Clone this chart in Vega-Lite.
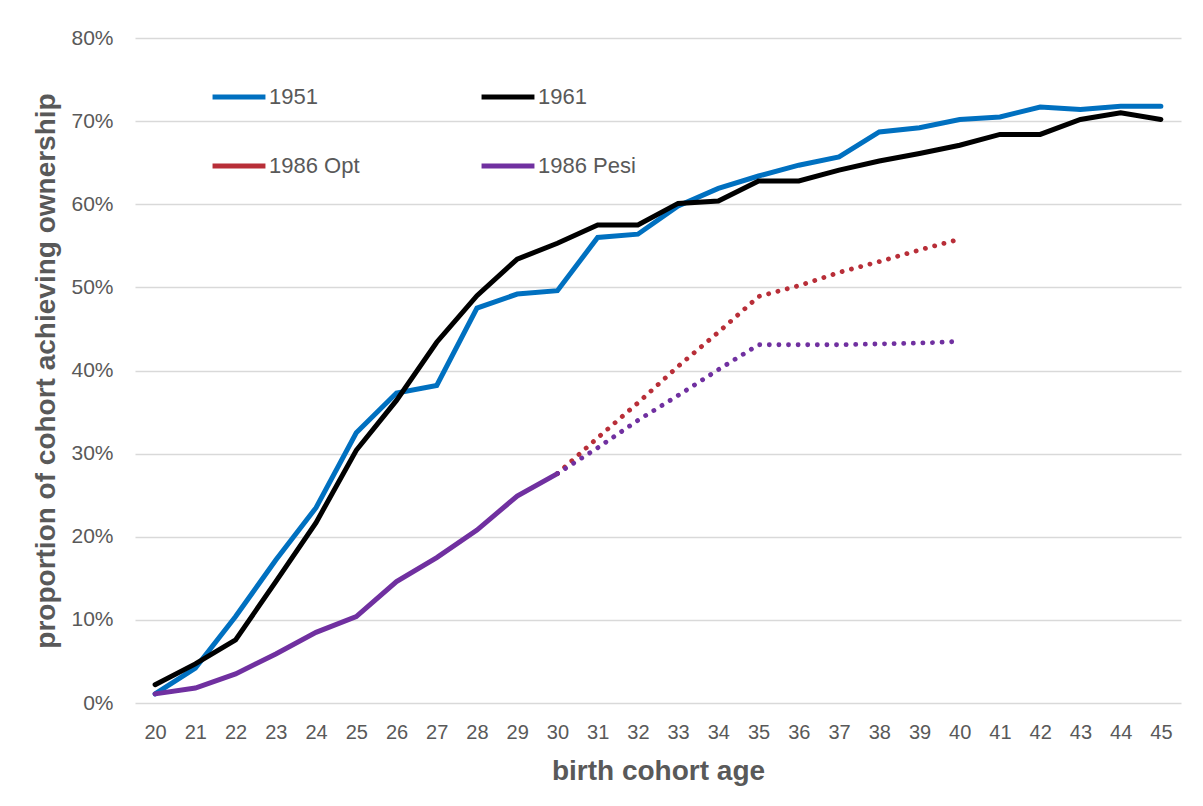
{
  "$schema": "https://vega.github.io/schema/vega-lite/v6.json",
  "width": 1046,
  "height": 665,
  "autosize": {"type": "none"},
  "padding": {"left": 135, "top": 38, "right": 22, "bottom": 103},
  "background": "white",
  "config": {
    "font": "Liberation Sans",
    "view": {"stroke": null},
    "axis": {"labelColor": "#595959", "titleColor": "#595959", "labelFontSize": 20, "titleFontSize": 28, "titleFontWeight": "bold", "gridColor": "#d9d9d9", "gridWidth": 1.5, "domain": false, "ticks": false, "labelOverlap": false}
  },
  "data": {"values": [
    {"age": 20, "series": "1951", "part": "solid", "v": 0.011},
    {"age": 21, "series": "1951", "part": "solid", "v": 0.042},
    {"age": 22, "series": "1951", "part": "solid", "v": 0.104},
    {"age": 23, "series": "1951", "part": "solid", "v": 0.172},
    {"age": 24, "series": "1951", "part": "solid", "v": 0.235},
    {"age": 25, "series": "1951", "part": "solid", "v": 0.325},
    {"age": 26, "series": "1951", "part": "solid", "v": 0.373},
    {"age": 27, "series": "1951", "part": "solid", "v": 0.382},
    {"age": 28, "series": "1951", "part": "solid", "v": 0.475},
    {"age": 29, "series": "1951", "part": "solid", "v": 0.492},
    {"age": 30, "series": "1951", "part": "solid", "v": 0.496},
    {"age": 31, "series": "1951", "part": "solid", "v": 0.560},
    {"age": 32, "series": "1951", "part": "solid", "v": 0.564},
    {"age": 33, "series": "1951", "part": "solid", "v": 0.598},
    {"age": 34, "series": "1951", "part": "solid", "v": 0.619},
    {"age": 35, "series": "1951", "part": "solid", "v": 0.634},
    {"age": 36, "series": "1951", "part": "solid", "v": 0.647},
    {"age": 37, "series": "1951", "part": "solid", "v": 0.657},
    {"age": 38, "series": "1951", "part": "solid", "v": 0.687},
    {"age": 39, "series": "1951", "part": "solid", "v": 0.692},
    {"age": 40, "series": "1951", "part": "solid", "v": 0.702},
    {"age": 41, "series": "1951", "part": "solid", "v": 0.705},
    {"age": 42, "series": "1951", "part": "solid", "v": 0.717},
    {"age": 43, "series": "1951", "part": "solid", "v": 0.714},
    {"age": 44, "series": "1951", "part": "solid", "v": 0.718},
    {"age": 45, "series": "1951", "part": "solid", "v": 0.718},
    {"age": 20, "series": "1961", "part": "solid", "v": 0.022},
    {"age": 21, "series": "1961", "part": "solid", "v": 0.047},
    {"age": 22, "series": "1961", "part": "solid", "v": 0.076},
    {"age": 23, "series": "1961", "part": "solid", "v": 0.146},
    {"age": 24, "series": "1961", "part": "solid", "v": 0.217},
    {"age": 25, "series": "1961", "part": "solid", "v": 0.304},
    {"age": 26, "series": "1961", "part": "solid", "v": 0.364},
    {"age": 27, "series": "1961", "part": "solid", "v": 0.434},
    {"age": 28, "series": "1961", "part": "solid", "v": 0.490},
    {"age": 29, "series": "1961", "part": "solid", "v": 0.534},
    {"age": 30, "series": "1961", "part": "solid", "v": 0.553},
    {"age": 31, "series": "1961", "part": "solid", "v": 0.575},
    {"age": 32, "series": "1961", "part": "solid", "v": 0.575},
    {"age": 33, "series": "1961", "part": "solid", "v": 0.601},
    {"age": 34, "series": "1961", "part": "solid", "v": 0.604},
    {"age": 35, "series": "1961", "part": "solid", "v": 0.628},
    {"age": 36, "series": "1961", "part": "solid", "v": 0.628},
    {"age": 37, "series": "1961", "part": "solid", "v": 0.641},
    {"age": 38, "series": "1961", "part": "solid", "v": 0.652},
    {"age": 39, "series": "1961", "part": "solid", "v": 0.661},
    {"age": 40, "series": "1961", "part": "solid", "v": 0.671},
    {"age": 41, "series": "1961", "part": "solid", "v": 0.684},
    {"age": 42, "series": "1961", "part": "solid", "v": 0.684},
    {"age": 43, "series": "1961", "part": "solid", "v": 0.702},
    {"age": 44, "series": "1961", "part": "solid", "v": 0.710},
    {"age": 45, "series": "1961", "part": "solid", "v": 0.702},
    {"age": 30, "series": "1986 Opt", "part": "proj", "v": 0.276},
    {"age": 31, "series": "1986 Opt", "part": "proj", "v": 0.319},
    {"age": 32, "series": "1986 Opt", "part": "proj", "v": 0.361},
    {"age": 33, "series": "1986 Opt", "part": "proj", "v": 0.405},
    {"age": 34, "series": "1986 Opt", "part": "proj", "v": 0.446},
    {"age": 35, "series": "1986 Opt", "part": "proj", "v": 0.489},
    {"age": 36, "series": "1986 Opt", "part": "proj", "v": 0.502},
    {"age": 37, "series": "1986 Opt", "part": "proj", "v": 0.518},
    {"age": 38, "series": "1986 Opt", "part": "proj", "v": 0.531},
    {"age": 39, "series": "1986 Opt", "part": "proj", "v": 0.545},
    {"age": 40, "series": "1986 Opt", "part": "proj", "v": 0.558},
    {"age": 20, "series": "1986 Pesi", "part": "solid", "v": 0.011},
    {"age": 21, "series": "1986 Pesi", "part": "solid", "v": 0.018},
    {"age": 22, "series": "1986 Pesi", "part": "solid", "v": 0.035},
    {"age": 23, "series": "1986 Pesi", "part": "solid", "v": 0.059},
    {"age": 24, "series": "1986 Pesi", "part": "solid", "v": 0.085},
    {"age": 25, "series": "1986 Pesi", "part": "solid", "v": 0.104},
    {"age": 26, "series": "1986 Pesi", "part": "solid", "v": 0.146},
    {"age": 27, "series": "1986 Pesi", "part": "solid", "v": 0.175},
    {"age": 28, "series": "1986 Pesi", "part": "solid", "v": 0.208},
    {"age": 29, "series": "1986 Pesi", "part": "solid", "v": 0.249},
    {"age": 30, "series": "1986 Pesi", "part": "solid", "v": 0.276},
    {"age": 30, "series": "1986 Pesi", "part": "proj", "v": 0.276},
    {"age": 31, "series": "1986 Pesi", "part": "proj", "v": 0.307},
    {"age": 32, "series": "1986 Pesi", "part": "proj", "v": 0.340},
    {"age": 33, "series": "1986 Pesi", "part": "proj", "v": 0.370},
    {"age": 34, "series": "1986 Pesi", "part": "proj", "v": 0.401},
    {"age": 35, "series": "1986 Pesi", "part": "proj", "v": 0.431},
    {"age": 36, "series": "1986 Pesi", "part": "proj", "v": 0.431},
    {"age": 37, "series": "1986 Pesi", "part": "proj", "v": 0.431},
    {"age": 38, "series": "1986 Pesi", "part": "proj", "v": 0.432},
    {"age": 39, "series": "1986 Pesi", "part": "proj", "v": 0.433},
    {"age": 40, "series": "1986 Pesi", "part": "proj", "v": 0.435}
  ]},
  "encoding": {
    "x": {"field": "age", "type": "ordinal", "scale": {"type": "point", "padding": 0.5},
      "axis": {"title": "birth cohort age", "labelAngle": 0, "labelPadding": 19, "titlePadding": 15, "grid": false}},
    "y": {"field": "v", "type": "quantitative", "scale": {"domain": [0, 0.8]},
      "axis": {"title": "proportion of cohort achieving ownership", "format": ".0%", "values": [0,0.1,0.2,0.3,0.4,0.5,0.6,0.7,0.8], "labelFontSize": 21, "labelPadding": 22, "titlePadding": 10}},
    "color": {"field": "series", "type": "nominal",
      "scale": {"domain": ["1951", "1961", "1986 Opt", "1986 Pesi"], "range": ["#0070c0", "#000000", "#b82e38", "#7030a0"]},
      "legend": {"title": null, "orient": "none", "direction": "horizontal", "legendX": 75, "legendY": 30, "columns": 2, "columnPadding": 111, "rowPadding": 29, "symbolType": "stroke", "symbolSize": 2800, "symbolStrokeWidth": 5, "symbolDash": [1, 0], "labelFontSize": 22, "labelColor": "#595959", "labelOffset": 1}}
  },
  "layer": [
    {"transform": [{"filter": "datum.part == 'solid'"}],
     "mark": {"type": "line", "strokeWidth": 5, "strokeCap": "round", "strokeJoin": "miter"},
     "encoding": {"detail": {"field": "part"}}},
    {"transform": [{"filter": "datum.part == 'proj'"}],
     "mark": {"type": "line", "strokeWidth": 4.8, "strokeCap": "round", "strokeDash": [0.1, 9.5]},
     "encoding": {"detail": {"field": "part"}}}
  ]
}
